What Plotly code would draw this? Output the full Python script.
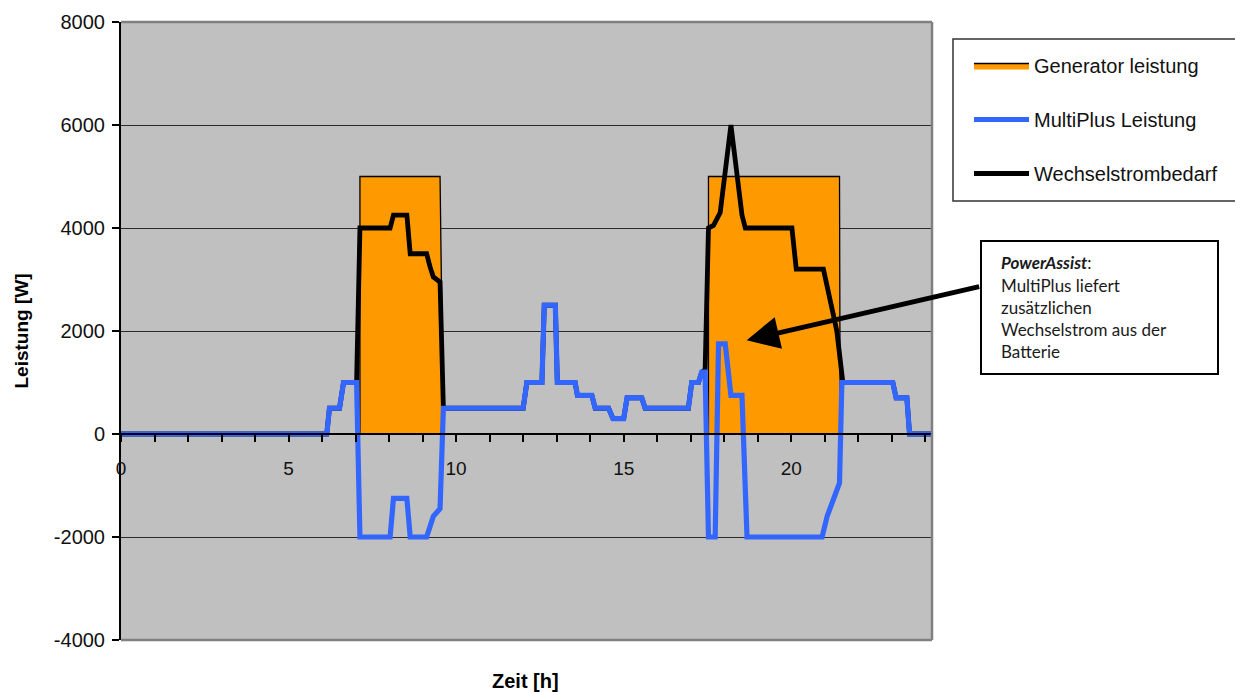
import plotly.graph_objects as go

# ---------------- data ----------------
gen_t = [0, 7.13, 7.13, 9.52, 9.62, 17.53, 17.53, 21.44, 21.46, 24.2]
gen_v = [0, 0, 5000, 5000, 0, 0, 5000, 5000, 0, 0]

mp_t = [0, 6.14, 6.22, 6.52, 6.64, 7.03, 7.13, 8.03, 8.13, 8.53, 8.63, 9.12, 9.32, 9.52, 9.62,
        12.0, 12.11, 12.56, 12.63, 12.96, 13.02, 13.55, 13.62, 14.05, 14.15, 14.55, 14.68,
        15.0, 15.1, 15.54, 15.64, 16.93, 17.03, 17.23, 17.33, 17.43, 17.53, 17.73, 17.83,
        18.03, 18.2, 18.53, 18.68, 20.92, 21.07, 21.44, 21.51, 23.03, 23.13, 23.45, 23.53, 24.2]
mp_v = [0, 0, 500, 500, 1000, 1000, -2000, -2000, -1250, -1250, -2000, -2000, -1600, -1450, 500,
        500, 1000, 1000, 2500, 2500, 1000, 1000, 750, 750, 500, 500, 300,
        300, 700, 700, 500, 500, 1000, 1000, 1200, 1200, -2000, -2000, 1750,
        1750, 750, 750, -2000, -2000, -1600, -950, 1000, 1000, 700, 700, 0, 0]

ac_t = [0, 6.14, 6.22, 6.52, 6.64, 7.03, 7.13, 8.03, 8.13, 8.53, 8.63, 9.12, 9.22, 9.32, 9.52, 9.62,
        12.0, 12.11, 12.56, 12.63, 12.96, 13.02, 13.55, 13.62, 14.05, 14.15, 14.55, 14.68,
        15.0, 15.1, 15.54, 15.64, 16.93, 17.03, 17.23, 17.33, 17.43, 17.53, 17.68, 17.88,
        18.2, 18.53, 18.63, 20.02, 20.15, 20.96, 21.36, 21.54, 23.03, 23.13, 23.45, 23.53, 24.2]
ac_v = [0, 0, 500, 500, 1000, 1000, 4000, 4000, 4250, 4250, 3500, 3500, 3250, 3050, 2950, 500,
        500, 1000, 1000, 2500, 2500, 1000, 1000, 750, 750, 500, 500, 300,
        300, 700, 700, 500, 500, 1000, 1000, 1200, 1250, 4000, 4050, 4300,
        6000, 4250, 4000, 4000, 3200, 3200, 2000, 1000, 1000, 700, 700, 0, 0]

names = ["Generator leistung", "MultiPlus Leistung", "Wechselstrombedarf"]
y_ticks = [-4000, -2000, 0, 2000, 4000, 6000, 8000]
x_ticks = [0, 5, 10, 15, 20]
note_lines = ["<b><i>PowerAssist</i></b>:", "MultiPlus liefert", "zusätzlichen",
              "Wechselstrom aus der", "Batterie"]

# ---------------- geometry (page pixels -> paper) ----------------
OFF = 8                      # body margin of the html page
W, H = 1243 - OFF, 692 - OFF
PL, PR, PT, PB = 121, 932, 22, 640   # plot area in page pixels
L, T = PL - OFF, PT - OFF
R, B = W - (PR - OFF), H - (PB - OFF)
PW, PH = PR - PL, PB - PT


def px(x):
    return (x - PL) / PW


def py(y):
    return (PB - y) / PH


FONT = "Liberation Sans, Arial, sans-serif"
NOTE_FONT = "Lato, Noto Sans, sans-serif"

fig = go.Figure()
fig.add_trace(go.Scatter(
    x=gen_t, y=gen_v, name=names[0], mode="lines", fill="tozeroy",
    fillcolor="#FF9900", line=dict(color="black", width=1.3),
    legendgroup="g1", legendrank=1))
fig.add_trace(go.Scatter(
    x=ac_t, y=ac_v, name=names[2], mode="lines",
    line=dict(color="black", width=4.8),
    legendgroup="g3", legendrank=3))
fig.add_trace(go.Scatter(
    x=mp_t, y=mp_v, name=names[1], mode="lines",
    line=dict(color="#3366FF", width=5.2),
    legendgroup="g2", legendrank=2))

fig.update_layout(
    width=W, height=H,
    margin=dict(l=L, r=R, t=T, b=B, pad=0, autoexpand=False),
    paper_bgcolor="white",
    plot_bgcolor="#C0C0C0",
    font=dict(family=FONT, size=20, color="black"),
    showlegend=True,
    legend=dict(
        x=px(969), y=py(46), xanchor="left", yanchor="top",
        bgcolor="rgba(0,0,0,0)", borderwidth=0,
        font=dict(family=FONT, size=20, color="#111"),
        traceorder="grouped", tracegroupgap=25,
        itemwidth=55,
    ),
    xaxis=dict(
        range=[0, 24.2], anchor="free", position=4000 / 12000, automargin=False,
        tickmode="array", tickvals=x_ticks, ticktext=[str(v) for v in x_ticks],
        showgrid=False, zeroline=False,
        showline=True, linecolor="black", linewidth=2,
        ticks="outside", ticklen=7, tickcolor="black", tickwidth=1.5,
        ticklabelstandoff=10,
        minor=dict(dtick=1, tick0=0, ticks="outside", ticklen=7,
                   tickcolor="black", tickwidth=1.5, showgrid=False),
        tickfont=dict(family=FONT, size=19, color="#111"),
    ),
    yaxis=dict(
        range=[-4000, 8000], tickmode="array", tickvals=y_ticks, automargin=False,
        ticktext=[str(v) for v in y_ticks],
        showgrid=True, gridcolor="#2a2a2a", gridwidth=1,
        zeroline=False,
        showline=True, linecolor="black", linewidth=2,
        ticks="outside", ticklen=7, tickcolor="black", tickwidth=1.5,
        ticklabelstandoff=3,
        tickfont=dict(family=FONT, size=20, color="#111"),
        title=dict(text="<b>Leistung [W]</b>", font=dict(family=FONT, size=19, color="black"),
                   standoff=20),
    ),
)

# plot-area border (top, right, bottom)
for x0, y0, x1, y1 in [(0, 1, 1, 1), (1, 0, 1, 1), (0, 0, 1, 0)]:
    fig.add_shape(type="line", xref="paper", yref="paper", x0=x0, y0=y0, x1=x1, y1=y1,
                  line=dict(color="#808080", width=2.5), layer="above")

# legend box
fig.add_shape(type="rect", xref="paper", yref="paper",
              x0=px(953), x1=px(1238), y0=py(201), y1=py(39),
              line=dict(color="#333", width=1.5), fillcolor="white", layer="below")

# x axis title
fig.add_annotation(xref="paper", yref="paper", x=px(525), y=py(681), text="<b>Zeit [h]</b>",
                   showarrow=False, font=dict(family=FONT, size=20, color="black"),
                   xanchor="center", yanchor="middle")

# PowerAssist note box
fig.add_shape(type="rect", xref="paper", yref="paper",
              x0=px(981), x1=px(1218), y0=py(374), y1=py(241),
              line=dict(color="black", width=2), fillcolor="white", layer="above")
note_y = [263, 285, 307, 329, 351]
for line_text, yy in zip(note_lines, note_y):
    fig.add_annotation(xref="paper", yref="paper", x=px(999), y=py(yy), text=line_text,
                       showarrow=False, align="left", xanchor="left", yanchor="middle",
                       font=dict(family=NOTE_FONT, size=17, color="#1a1a1a"))

# arrow pointing into the PowerAssist region
fig.add_annotation(x=18.67, y=1820, xref="x", yref="y", text="", showarrow=True,
                   ax=234, ay=-54, axref="pixel", ayref="pixel",
                   arrowhead=2, arrowsize=1.3, arrowwidth=5, arrowcolor="black", standoff=0)

fig.write_html("out.html")
